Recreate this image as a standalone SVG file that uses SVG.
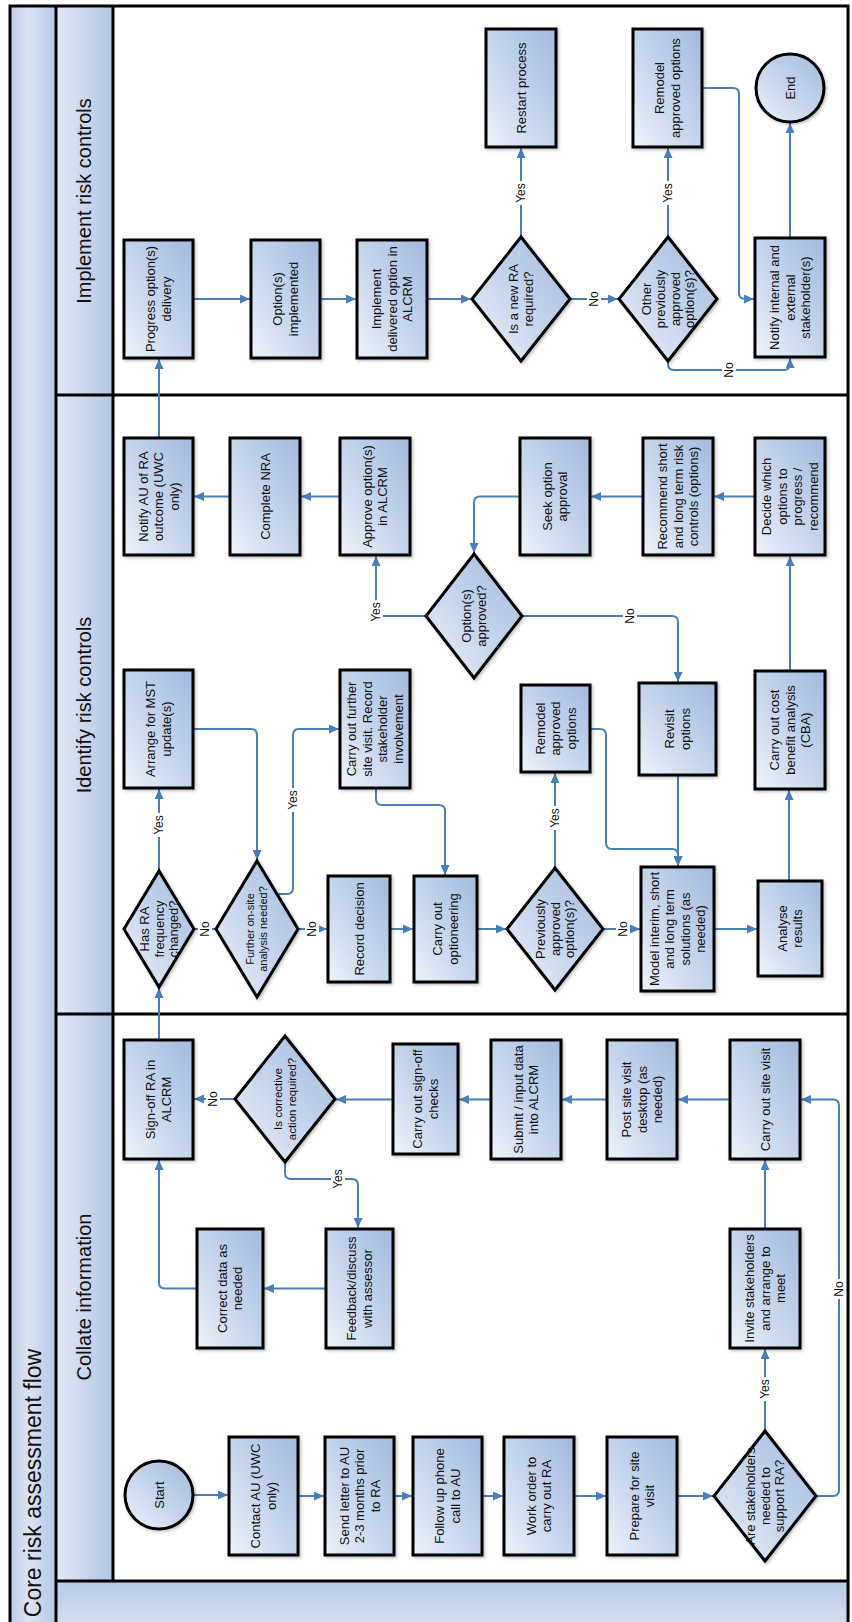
<svg xmlns="http://www.w3.org/2000/svg" width="852" height="1622" viewBox="0 0 852 1622">
<defs>
<linearGradient id="g" x1="0" y1="1" x2="1" y2="0">
<stop offset="0" stop-color="#eef3fa"/><stop offset="0.5" stop-color="#c4d4eb"/><stop offset="1" stop-color="#a3badf"/>
</linearGradient>
<linearGradient id="h" x1="0" y1="0" x2="1" y2="0">
<stop offset="0" stop-color="#e2e9f4"/><stop offset="1" stop-color="#b3c6e2"/>
</linearGradient>
<linearGradient id="tg" x1="0" y1="0" x2="1" y2="0">
<stop offset="0" stop-color="#bccde6"/><stop offset="0.4" stop-color="#dbe4f2"/><stop offset="1" stop-color="#b3c6e2"/>
</linearGradient>
<linearGradient id="bg" x1="0" y1="0" x2="0" y2="1">
<stop offset="0" stop-color="#b8cae4"/><stop offset="1" stop-color="#d6e1f0"/>
</linearGradient>
<filter id="sh" x="-10%" y="-10%" width="125%" height="125%">
<feDropShadow dx="1.5" dy="1.5" stdDeviation="1.5" flood-color="#000" flood-opacity="0.25"/>
</filter>
<marker id="a" markerWidth="10" markerHeight="9" refX="10" refY="4.5" orient="auto" markerUnits="userSpaceOnUse">
<path d="M0,0 L10,4.5 L0,9 z" fill="#4a7ebb"/>
</marker>
<style>
.b{fill:url(#g);stroke:#000;stroke-width:3;filter:url(#sh)}
.t{font-family:"Liberation Sans",Arial,sans-serif;font-size:13px;fill:#111;text-anchor:middle}
.s11{font-size:11px}
.s12{font-size:11.5px}
.c{fill:none;stroke:#4a7ebb;stroke-width:2;marker-end:url(#a)}
.lab{font-family:"Liberation Sans",Arial,sans-serif;font-size:12px;fill:#111;text-anchor:middle}
.lb{fill:#fff}
.hd{font-family:"Liberation Sans",Arial,sans-serif;font-size:20px;fill:#111;text-anchor:middle}
.ttl{font-family:"Liberation Sans",Arial,sans-serif;font-size:23px;fill:#111;text-anchor:middle}
.ln{stroke:#000;stroke-width:3;fill:none}
</style>
</defs>
<rect width="852" height="1622" fill="#fff"/>

<g id="pool">
<rect x="10" y="6" width="46" height="1620" fill="url(#tg)"/>
<rect x="56" y="6" width="57" height="389" fill="url(#h)"/>
<rect x="56" y="395" width="57" height="619" fill="url(#h)"/>
<rect x="56" y="1014" width="57" height="567" fill="url(#h)"/>
<rect x="56" y="1581" width="794" height="45" fill="url(#bg)"/>
<rect x="10" y="6" width="838" height="1630" class="ln"/>
<path class="ln" d="M56,6 V1622 M113,6 V1581 M56,395 H848 M56,1014 H848 M56,1581 H848"/>
<text class="ttl" transform="translate(33,1483) rotate(-90)" dy="8">Core risk assessment flow</text>
<text class="hd" transform="translate(84,201) rotate(-90)" dy="7">Implement risk controls</text>
<text class="hd" transform="translate(84,705) rotate(-90)" dy="7">Identify risk controls</text>
<text class="hd" transform="translate(84,1297) rotate(-90)" dy="7">Collate information</text>
</g>

<g id="connectors">
<path class="c" d="M193,299 H250"/>
<path class="c" d="M320,299 H356"/>
<path class="c" d="M427,299 H471"/>
<path class="c" d="M570,299 H618"/>
<path class="c" d="M521,237 V148"/>
<path class="c" d="M668,237 V148"/>
<path class="c" d="M668,361 V364 Q668,370 674,370 H784 Q790,370 790,364 V358"/>
<path class="c" d="M702,88 H733 Q739,88 739,94 V293 Q739,299 745,299 H754"/>
<path class="c" d="M790,238 V123"/>
<path class="c" d="M159,438 V359"/>
<path class="c" d="M340,496.5 H301"/>
<path class="c" d="M230,496.5 H194"/>
<path class="c" d="M755,496.5 H714"/>
<path class="c" d="M643,496.5 H591"/>
<path class="c" d="M520,496.5 H480 Q474,496.5 474,502.5 V553"/>
<path class="c" d="M426,616 H382 Q376,616 376,610 V556"/>
<path class="c" d="M522,616 H672 Q678,616 678,622 V682"/>
<path class="c" d="M790,671 V556"/>
<path class="c" d="M159,1040 V988"/>
<path class="c" d="M159,871 V789"/>
<path class="c" d="M194,929 H215"/>
<path class="c" d="M193,729 H251 Q257,729 257,735 V860"/>
<path class="c" d="M277,894 H287 Q293,894 293,888 V735 Q293,729 299,729 H339"/>
<path class="c" d="M298,929 H327"/>
<path class="c" d="M390,929 H413"/>
<path class="c" d="M376,788 V799 Q376,805 382,805 H439 Q445,805 445,811 V875"/>
<path class="c" d="M477,929 H506"/>
<path class="c" d="M555,868 V773"/>
<path class="c" d="M603,929 H640"/>
<path class="c" d="M590,729 H600 Q606,729 606,735 V843 Q606,849 612,849 H672 Q678,849 678,855 V866"/>
<path class="c" d="M678,775 V866"/>
<path class="c" d="M714,929 H757"/>
<path class="c" d="M789,881 V790"/>
<path class="c" d="M730,1099.5 H678"/>
<path class="c" d="M607,1099.5 H562"/>
<path class="c" d="M491,1099.5 H459"/>
<path class="c" d="M393,1099.5 H336"/>
<path class="c" d="M235,1099 H194"/>
<path class="c" d="M285,1162 V1173 Q285,1179 291,1179 H352 Q358,1179 358,1185 V1228"/>
<path class="c" d="M326,1288.5 H264"/>
<path class="c" d="M197,1288.5 H165 Q159,1288.5 159,1282.5 V1160"/>
<path class="c" d="M193,1495 H228"/>
<path class="c" d="M298,1496 H324"/>
<path class="c" d="M394,1496 H412"/>
<path class="c" d="M482,1496 H503"/>
<path class="c" d="M574,1496 H606"/>
<path class="c" d="M677,1496 H713"/>
<path class="c" d="M765,1431 V1349"/>
<path class="c" d="M816,1496 H833 Q839,1496 839,1490 V1105.5 Q839,1099.5 833,1099.5 H801"/>
<path class="c" d="M765,1229 V1160"/>

<g transform="translate(594,299)"><rect class="lb" x="-7" y="-10" width="14" height="20"/><text class="lab" transform="rotate(-90)" dy="4.2">No</text></g>
<g transform="translate(521,193)"><rect class="lb" x="-7" y="-12" width="14" height="24"/><text class="lab" transform="rotate(-90)" dy="4.2">Yes</text></g>
<g transform="translate(668,193)"><rect class="lb" x="-7" y="-12" width="14" height="24"/><text class="lab" transform="rotate(-90)" dy="4.2">Yes</text></g>
<g transform="translate(729,370)"><rect class="lb" x="-7" y="-10" width="14" height="20"/><text class="lab" transform="rotate(-90)" dy="4.2">No</text></g>
<g transform="translate(376,612)"><rect class="lb" x="-7" y="-12" width="14" height="24"/><text class="lab" transform="rotate(-90)" dy="4.2">Yes</text></g>
<g transform="translate(630,616)"><rect class="lb" x="-7" y="-10" width="14" height="20"/><text class="lab" transform="rotate(-90)" dy="4.2">No</text></g>
<g transform="translate(159,825)"><rect class="lb" x="-7" y="-12" width="14" height="24"/><text class="lab" transform="rotate(-90)" dy="4.2">Yes</text></g>
<g transform="translate(205,929)"><rect class="lb" x="-7" y="-10" width="14" height="20"/><text class="lab" transform="rotate(-90)" dy="4.2">No</text></g>
<g transform="translate(293,800)"><rect class="lb" x="-7" y="-12" width="14" height="24"/><text class="lab" transform="rotate(-90)" dy="4.2">Yes</text></g>
<g transform="translate(312,929)"><rect class="lb" x="-7" y="-10" width="14" height="20"/><text class="lab" transform="rotate(-90)" dy="4.2">No</text></g>
<g transform="translate(555,818)"><rect class="lb" x="-7" y="-12" width="14" height="24"/><text class="lab" transform="rotate(-90)" dy="4.2">Yes</text></g>
<g transform="translate(623,929)"><rect class="lb" x="-7" y="-10" width="14" height="20"/><text class="lab" transform="rotate(-90)" dy="4.2">No</text></g>
<g transform="translate(213,1099)"><rect class="lb" x="-7" y="-10" width="14" height="20"/><text class="lab" transform="rotate(-90)" dy="4.2">No</text></g>
<g transform="translate(338,1179)"><rect class="lb" x="-7" y="-12" width="14" height="24"/><text class="lab" transform="rotate(-90)" dy="4.2">Yes</text></g>
<g transform="translate(765,1389)"><rect class="lb" x="-7" y="-12" width="14" height="24"/><text class="lab" transform="rotate(-90)" dy="4.2">Yes</text></g>
<g transform="translate(839,1289)"><rect class="lb" x="-7" y="-10" width="14" height="20"/><text class="lab" transform="rotate(-90)" dy="4.2">No</text></g>
</g>

<g id="n-progress"><rect class="b" x="124" y="240" width="69" height="118"/><text class="t" transform="translate(158.5,299) rotate(-90)"><tspan x="0" dy="-3.25">Progress option(s)</tspan><tspan x="0" dy="15.5">delivery</tspan></text></g>
<g id="n-implemented"><rect class="b" x="251" y="240" width="69" height="118"/><text class="t" transform="translate(285.5,299) rotate(-90)"><tspan x="0" dy="-3.25">Option(s)</tspan><tspan x="0" dy="15.5">implemented</tspan></text></g>
<g id="n-impl-alcrm"><rect class="b" x="357" y="240" width="70" height="118"/><text class="t" transform="translate(392,299) rotate(-90)"><tspan x="0" dy="-11">Implement</tspan><tspan x="0" dy="15.5">delivered option in</tspan><tspan x="0" dy="15.5">ALCRM</tspan></text></g>
<g id="n-newra"><polygon class="b" points="521,237 570,299 521,361 472,299"/><text class="t" transform="translate(521,299) rotate(-90)"><tspan x="0" dy="-3.25">Is a new RA</tspan><tspan x="0" dy="15.5">required?</tspan></text></g>
<g id="n-restart"><rect class="b" x="486" y="29" width="70" height="118"/><text class="t" transform="translate(521,88) rotate(-90)"><tspan x="0" dy="4.5">Restart process</tspan></text></g>
<g id="n-other"><polygon class="b" points="668,237 717,299 668,361 619,299"/><text class="t" transform="translate(668,299) rotate(-90)"><tspan x="0" dy="-17.25">Other</tspan><tspan x="0" dy="14.5">previously</tspan><tspan x="0" dy="14.5">approved</tspan><tspan x="0" dy="14.5">option(s)?</tspan></text></g>
<g id="n-remodel-top"><rect class="b" x="633" y="29" width="69" height="118"/><text class="t" transform="translate(667.5,88) rotate(-90)"><tspan x="0" dy="-3.25">Remodel</tspan><tspan x="0" dy="15.5">approved options</tspan></text></g>
<g id="n-notify-ext"><rect class="b" x="755" y="238" width="70" height="119"/><text class="t" transform="translate(790,297.5) rotate(-90)"><tspan x="0" dy="-11">Notify internal and</tspan><tspan x="0" dy="15.5">external</tspan><tspan x="0" dy="15.5">stakeholder(s)</tspan></text></g>
<g id="n-end"><circle class="b" cx="790" cy="88" r="34"/><text class="t" transform="translate(790,88) rotate(-90)"><tspan x="0" dy="4.5">End</tspan></text></g>

<g id="n-notify-au"><rect class="b" x="124" y="438" width="69" height="117"/><text class="t" transform="translate(158.5,496.5) rotate(-90)"><tspan x="0" dy="-11">Notify AU of RA</tspan><tspan x="0" dy="15.5">outcome (UWC</tspan><tspan x="0" dy="15.5">only)</tspan></text></g>
<g id="n-nra"><rect class="b" x="230" y="438" width="70" height="117"/><text class="t" transform="translate(265,496.5) rotate(-90)"><tspan x="0" dy="4.5">Complete NRA</tspan></text></g>
<g id="n-approve"><rect class="b" x="340" y="438" width="70" height="117"/><text class="t" transform="translate(375,496.5) rotate(-90)"><tspan x="0" dy="-3.25">Approve option(s)</tspan><tspan x="0" dy="15.5">in ALCRM</tspan></text></g>
<g id="n-seek"><rect class="b" x="520" y="438" width="70" height="117"/><text class="t" transform="translate(555,496.5) rotate(-90)"><tspan x="0" dy="-3.25">Seek option</tspan><tspan x="0" dy="15.5">approval</tspan></text></g>
<g id="n-recommend"><rect class="b" x="643" y="438" width="70" height="117"/><text class="t" transform="translate(678,496.5) rotate(-90)"><tspan x="0" dy="-11">Recommend short</tspan><tspan x="0" dy="15.5">and long term risk</tspan><tspan x="0" dy="15.5">controls (options)</tspan></text></g>
<g id="n-decide"><rect class="b" x="755" y="438" width="70" height="117"/><text class="t" transform="translate(790,496.5) rotate(-90)"><tspan x="0" dy="-18.75">Decide which</tspan><tspan x="0" dy="15.5">options to</tspan><tspan x="0" dy="15.5">progress /</tspan><tspan x="0" dy="15.5">recommend</tspan></text></g>
<g id="n-approved"><polygon class="b" points="474,554 522,616 474,678 426,616"/><text class="t" transform="translate(474,616) rotate(-90)"><tspan x="0" dy="-3.25">Option(s)</tspan><tspan x="0" dy="15.5">approved?</tspan></text></g>
<g id="n-mst"><rect class="b" x="124" y="670" width="69" height="118"/><text class="t" transform="translate(158.5,729) rotate(-90)"><tspan x="0" dy="-3.25">Arrange for MST</tspan><tspan x="0" dy="15.5">update(s)</tspan></text></g>
<g id="n-further-visit"><rect class="b" x="340" y="670" width="70" height="118"/><text class="t" transform="translate(375,729) rotate(-90)"><tspan x="0" dy="-18.75">Carry out further</tspan><tspan x="0" dy="15.5">site visit. Record</tspan><tspan x="0" dy="15.5">stakeholder</tspan><tspan x="0" dy="15.5">involvement</tspan></text></g>
<g id="n-remodel-mid"><rect class="b" x="521" y="685" width="69" height="87"/><text class="t" transform="translate(555.5,728.5) rotate(-90)"><tspan x="0" dy="-11">Remodel</tspan><tspan x="0" dy="15.5">approved</tspan><tspan x="0" dy="15.5">options</tspan></text></g>
<g id="n-revisit"><rect class="b" x="639" y="683" width="77" height="92"/><text class="t" transform="translate(677.5,729) rotate(-90)"><tspan x="0" dy="-3.25">Revisit</tspan><tspan x="0" dy="15.5">options</tspan></text></g>
<g id="n-cba"><rect class="b" x="755" y="671" width="70" height="118"/><text class="t" transform="translate(790,730) rotate(-90)"><tspan x="0" dy="-11">Carry out cost</tspan><tspan x="0" dy="15.5">benefit analysis</tspan><tspan x="0" dy="15.5">(CBA)</tspan></text></g>
<g id="n-freq"><polygon class="b" points="159,871 194,929 159,987 124,929"/><text class="t" transform="translate(159,929) rotate(-90)"><tspan x="0" dy="-10">Has RA</tspan><tspan x="0" dy="14.5">frequency</tspan><tspan x="0" dy="14.5">changed?</tspan></text></g>
<g id="n-onsite"><polygon class="b" points="257,861 298,929 257,997 216,929"/><text class="t s11" transform="translate(257,929) rotate(-90)"><tspan x="0" dy="-2.75">Further on-site</tspan><tspan x="0" dy="13">analysis needed?</tspan></text></g>
<g id="n-record"><rect class="b" x="328" y="876" width="62" height="106"/><text class="t" transform="translate(359,929) rotate(-90)"><tspan x="0" dy="4.5">Record decision</tspan></text></g>
<g id="n-optioneering"><rect class="b" x="414" y="876" width="63" height="106"/><text class="t" transform="translate(445.5,929) rotate(-90)"><tspan x="0" dy="-3.25">Carry out</tspan><tspan x="0" dy="15.5">optioneering</tspan></text></g>
<g id="n-prev"><polygon class="b" points="555,868 603,929 555,990 507,929"/><text class="t" transform="translate(555,929) rotate(-90)"><tspan x="0" dy="-10">Previously</tspan><tspan x="0" dy="14.5">approved</tspan><tspan x="0" dy="14.5">option(s)?</tspan></text></g>
<g id="n-model"><rect class="b" x="641" y="867" width="73" height="124"/><text class="t" transform="translate(677.5,929) rotate(-90)"><tspan x="0" dy="-18.75">Model interim, short</tspan><tspan x="0" dy="15.5">and long term</tspan><tspan x="0" dy="15.5">solutions (as</tspan><tspan x="0" dy="15.5">needed)</tspan></text></g>
<g id="n-analyse"><rect class="b" x="758" y="881" width="64" height="95"/><text class="t" transform="translate(790,928.5) rotate(-90)"><tspan x="0" dy="-3.25">Analyse</tspan><tspan x="0" dy="15.5">results</tspan></text></g>

<g id="n-signoff"><rect class="b" x="124" y="1040" width="69" height="119"/><text class="t" transform="translate(158.5,1099.5) rotate(-90)"><tspan x="0" dy="-3.25">Sign-off RA in</tspan><tspan x="0" dy="15.5">ALCRM</tspan></text></g>
<g id="n-corrective"><polygon class="b" points="285,1036 335,1099 285,1162 235,1099"/><text class="t s12" transform="translate(285,1099) rotate(-90)"><tspan x="0" dy="-3">Is corrective</tspan><tspan x="0" dy="14">action required?</tspan></text></g>
<g id="n-checks"><rect class="b" x="393" y="1044" width="65" height="110"/><text class="t" transform="translate(425.5,1099) rotate(-90)"><tspan x="0" dy="-3.25">Carry out sign-off</tspan><tspan x="0" dy="15.5">checks</tspan></text></g>
<g id="n-submit"><rect class="b" x="491" y="1040" width="70" height="119"/><text class="t" transform="translate(526,1099.5) rotate(-90)"><tspan x="0" dy="-3.25">Submit / input data</tspan><tspan x="0" dy="15.5">into ALCRM</tspan></text></g>
<g id="n-post"><rect class="b" x="607" y="1040" width="70" height="119"/><text class="t" transform="translate(642,1099.5) rotate(-90)"><tspan x="0" dy="-11">Post site visit</tspan><tspan x="0" dy="15.5">desktop (as</tspan><tspan x="0" dy="15.5">needed)</tspan></text></g>
<g id="n-sitevisit"><rect class="b" x="730" y="1040" width="70" height="119"/><text class="t" transform="translate(765,1099.5) rotate(-90)"><tspan x="0" dy="4.5">Carry out site visit</tspan></text></g>
<g id="n-correct"><rect class="b" x="197" y="1229" width="66" height="119"/><text class="t" transform="translate(230,1288.5) rotate(-90)"><tspan x="0" dy="-3.25">Correct data as</tspan><tspan x="0" dy="15.5">needed</tspan></text></g>
<g id="n-feedback"><rect class="b" x="326" y="1229" width="67" height="119"/><text class="t" transform="translate(359.5,1288.5) rotate(-90)"><tspan x="0" dy="-3.25">Feedback/discuss</tspan><tspan x="0" dy="15.5">with assessor</tspan></text></g>
<g id="n-invite"><rect class="b" x="730" y="1229" width="70" height="119"/><text class="t" transform="translate(765,1288.5) rotate(-90)"><tspan x="0" dy="-11">Invite stakeholders</tspan><tspan x="0" dy="15.5">and arrange to</tspan><tspan x="0" dy="15.5">meet</tspan></text></g>
<g id="n-start"><circle class="b" cx="159" cy="1495" r="34"/><text class="t" transform="translate(159,1495) rotate(-90)"><tspan x="0" dy="4.5">Start</tspan></text></g>
<g id="n-contact"><rect class="b" x="229" y="1437" width="69" height="118"/><text class="t" transform="translate(263.5,1496) rotate(-90)"><tspan x="0" dy="-3.25">Contact AU (UWC</tspan><tspan x="0" dy="15.5">only)</tspan></text></g>
<g id="n-letter"><rect class="b" x="325" y="1437" width="69" height="118"/><text class="t" transform="translate(359.5,1496) rotate(-90)"><tspan x="0" dy="-11">Send letter to AU</tspan><tspan x="0" dy="15.5">2-3 months prior</tspan><tspan x="0" dy="15.5">to RA</tspan></text></g>
<g id="n-phone"><rect class="b" x="413" y="1437" width="69" height="118"/><text class="t" transform="translate(447.5,1496) rotate(-90)"><tspan x="0" dy="-3.25">Follow up phone</tspan><tspan x="0" dy="15.5">call to AU</tspan></text></g>
<g id="n-workorder"><rect class="b" x="504" y="1437" width="70" height="118"/><text class="t" transform="translate(539,1496) rotate(-90)"><tspan x="0" dy="-3.25">Work order to</tspan><tspan x="0" dy="15.5">carry out RA</tspan></text></g>
<g id="n-prepare"><rect class="b" x="607" y="1437" width="70" height="118"/><text class="t" transform="translate(642,1496) rotate(-90)"><tspan x="0" dy="-3.25">Prepare for site</tspan><tspan x="0" dy="15.5">visit</tspan></text></g>
<g id="n-stakeholders"><polygon class="b" points="765,1431 816,1496 765,1561 714,1496"/><text class="t" transform="translate(765,1496) rotate(-90)"><tspan x="0" dy="-10">Are stakeholders</tspan><tspan x="0" dy="14.5">needed to</tspan><tspan x="0" dy="14.5">support RA?</tspan></text></g>
</svg>
